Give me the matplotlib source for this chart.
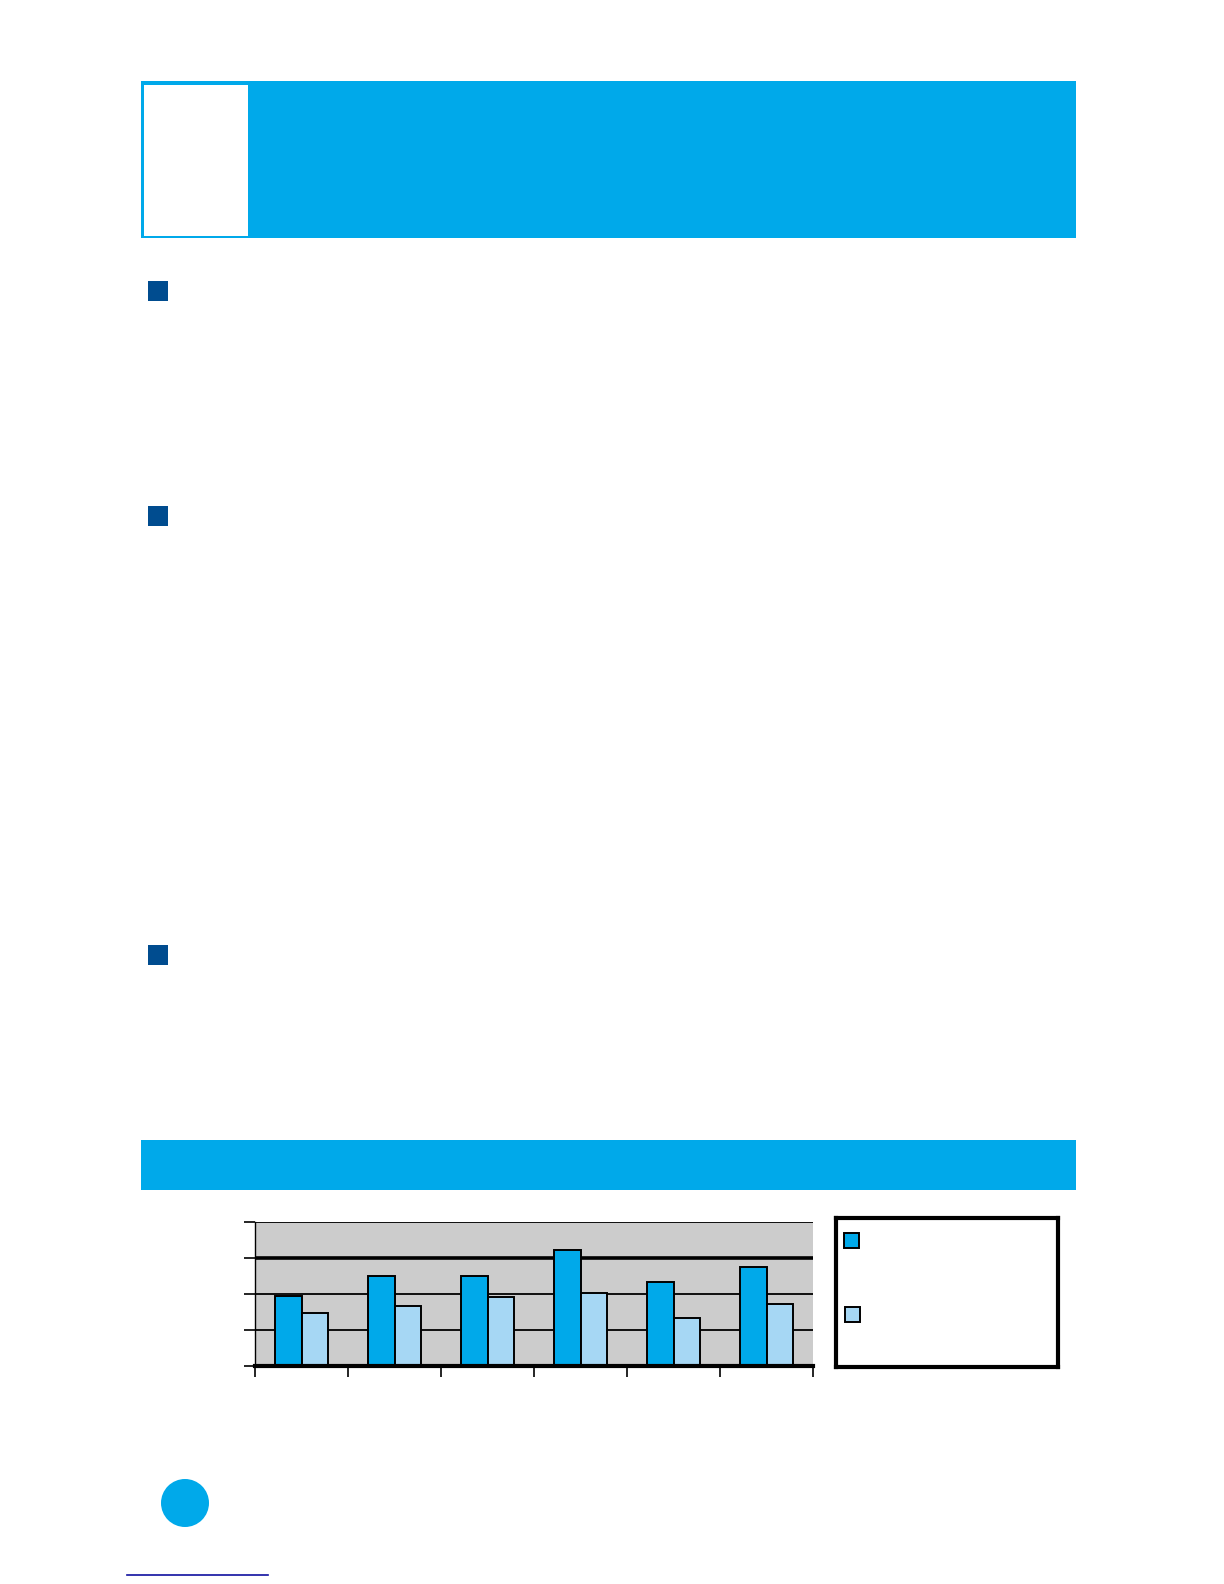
import numpy as np
import matplotlib.pyplot as plt
from matplotlib.patches import Rectangle, Circle

# Chart data (six groups, two series; labels were not printed on the page)
categories = ["", "", "", "", "", ""]
series_a = [1.95, 2.51, 2.51, 3.22, 2.34, 2.76]
series_b = [1.47, 1.67, 1.93, 2.04, 1.32, 1.71]
y_ticks = [0, 1, 2, 3, 4]

W, H = 1224, 1584
BLUE = "#00A9EA"
LIGHT = "#A6D7F4"
NAVY = "#004C8F"

fig = plt.figure(figsize=(W / 100, H / 100), dpi=100)

# page layer in pixel coordinates
page = fig.add_axes([0, 0, 1, 1])
page.set_xlim(0, W)
page.set_ylim(H, 0)
page.axis("off")

# header block
page.add_patch(Rectangle((141, 81), 935, 157, color=BLUE, lw=0))
page.add_patch(Rectangle((144, 85), 104, 151, color="white", lw=0))

# section bullets
for y in [281, 506, 945]:
    page.add_patch(Rectangle((148, y), 20, 20, color=NAVY, lw=0))

# band above chart
page.add_patch(Rectangle((141, 1140), 935, 50, color=BLUE, lw=0))

# page number circle and footer rule
page.add_patch(Circle((185, 1503), 24, color=BLUE, lw=0))
page.plot([127, 268], [1575, 1575], color="#1010A0", lw=1.2)


def fig_box(x0, y0, x1, y1):
    return [x0 / W, 1 - y1 / H, (x1 - x0) / W, (y1 - y0) / H]


# bar chart
ax = fig.add_axes(fig_box(255, 1222, 813, 1366))
x = np.arange(len(categories)) + 0.5
bw = 0.28
ax.bar(x - bw / 2, series_a, width=bw, color=BLUE, edgecolor="black", linewidth=1.4, zorder=3)
ax.bar(x + bw / 2, series_b, width=bw, color=LIGHT, edgecolor="black", linewidth=1.4, zorder=3)
ax.set_facecolor("#CCCCCC")
ax.set_xlim(0, len(categories))
ax.set_ylim(0, 4)
ax.set_yticks(y_ticks)
ax.set_yticklabels([])
ax.set_xticks(np.arange(len(categories) + 1))
ax.set_xticklabels([])
for v in y_ticks[1:]:
    ax.axhline(v, color="black", linewidth=2.6 if v == 3 else 1.3, zorder=1)
ax.spines["top"].set_visible(False)
ax.spines["right"].set_visible(False)
ax.spines["bottom"].set_linewidth(3)
ax.spines["bottom"].set_zorder(4)
ax.spines["left"].set_linewidth(1)
ax.tick_params(axis="x", direction="out", length=8, width=1.2)
ax.tick_params(axis="y", direction="out", length=8, width=1.2)

# legend box
lg = fig.add_axes(fig_box(836, 1218, 1058, 1367))
lg.set_xlim(836, 1058)
lg.set_ylim(1367, 1218)
lg.set_xticks([])
lg.set_yticks([])
for s in lg.spines.values():
    s.set_linewidth(3)
lg.add_patch(Rectangle((844, 1233), 15, 15, facecolor=BLUE, edgecolor="black", lw=1.4))
lg.add_patch(Rectangle((845, 1307), 15, 15, facecolor=LIGHT, edgecolor="black", lw=1.4))

fig.savefig("out.png", dpi=100)
plt.close(fig)
